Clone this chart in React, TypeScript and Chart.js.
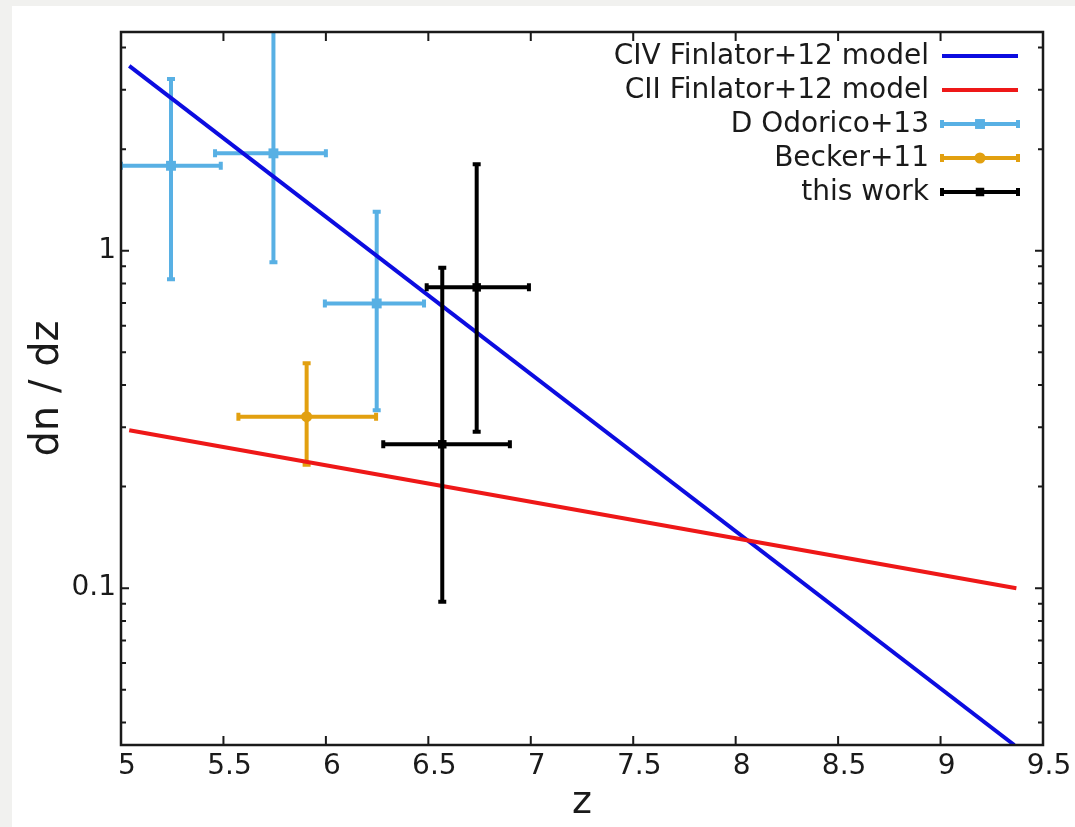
import React, { useEffect, useRef } from "react";
import { Chart, registerables } from "chart.js";

Chart.register(...registerables);

const FONT = "'DejaVu Sans', Verdana, sans-serif";
const INK = "#1a1a1a";

// Model curves (redshift z, dn/dz)
const civZ = [5.04, 9.36];
const civN = [3.53, 0.0343];
const ciiZ = [5.04, 9.37];
const ciiN = [0.294, 0.1];

// D Odorico+13 measurements
const odoZ = [5.244, 5.744, 6.248];
const odoN = [1.786, 1.944, 0.698];
const odoZLo = [5.0, 5.459, 5.995];
const odoZHi = [5.487, 6.0, 6.479];
const odoNLo = [0.824, 0.924, 0.337];
const odoNHi = [3.23, 5.0, 1.305];

// Becker+11 measurement
const beckZ = [5.906];
const beckN = [0.3224];
const beckZLo = [5.573];
const beckZHi = [6.245];
const beckNLo = [0.232];
const beckNHi = [0.464];

// this work
const workZ = [6.568, 6.736];
const workN = [0.267, 0.779];
const workZLo = [6.28, 6.492];
const workZHi = [6.898, 6.991];
const workNLo = [0.0912, 0.291];
const workNHi = [0.89, 1.806];

// Axis ranges and ticks
const xMin = 5;
const xMax = 9.5;
const yMin = 0.0343;
const yMax = 4.45;
const xMajorTicks = [5, 5.5, 6, 6.5, 7, 7.5, 8, 8.5, 9, 9.5];
const yMajorTicks = [0.1, 1];
const yMinorTicks = [
  0.04, 0.05, 0.06, 0.07, 0.08, 0.09,
  0.2, 0.3, 0.4, 0.5, 0.6, 0.7, 0.8, 0.9,
  2, 3, 4,
];

const pts = (xs: number[], ys: number[]) => xs.map((x, i) => ({ x, y: ys[i] }));

const errs = (zLo: number[], zHi: number[], nLo: number[], nHi: number[]) =>
  zLo.map((_, i) => ({ zLo: zLo[i], zHi: zHi[i], nLo: nLo[i], nHi: nHi[i] }));

const BAR_WIDTH = 4;
const CAP = 4;

function drawErrorBar(
  ctx: CanvasRenderingContext2D,
  x0: number, x1: number, xc: number,
  y0: number, y1: number, yc: number,
  cap: number
) {
  ctx.beginPath();
  ctx.moveTo(x0, yc);
  ctx.lineTo(x1, yc);
  ctx.moveTo(x0, yc - cap);
  ctx.lineTo(x0, yc + cap);
  ctx.moveTo(x1, yc - cap);
  ctx.lineTo(x1, yc + cap);
  ctx.moveTo(xc, y0);
  ctx.lineTo(xc, y1);
  ctx.moveTo(xc - cap, y0);
  ctx.lineTo(xc + cap, y0);
  ctx.moveTo(xc - cap, y1);
  ctx.lineTo(xc + cap, y1);
  ctx.stroke();
}

const errorBarPlugin = {
  id: "errorBars",
  beforeDatasetDraw(chart: any, args: any) {
    const ds = chart.data.datasets[args.index];
    if (!ds.errors) return;
    const { ctx, chartArea, scales } = chart;
    const x = scales.x;
    const y = scales.y;
    ctx.save();
    ctx.beginPath();
    ctx.rect(chartArea.left, chartArea.top, chartArea.right - chartArea.left, chartArea.bottom - chartArea.top);
    ctx.clip();
    ctx.strokeStyle = ds.borderColor;
    ctx.lineWidth = BAR_WIDTH;
    ds.data.forEach((p: any, i: number) => {
      const e = ds.errors[i];
      drawErrorBar(
        ctx,
        x.getPixelForValue(e.zLo), x.getPixelForValue(e.zHi), x.getPixelForValue(p.x),
        y.getPixelForValue(e.nHi), y.getPixelForValue(e.nLo), y.getPixelForValue(p.y),
        CAP
      );
    });
    ctx.restore();
  },
  afterDraw(chart: any) {
    const { ctx, chartArea, scales } = chart;
    const { left, right, top, bottom } = chartArea;
    const x = scales.x;
    const y = scales.y;
    ctx.save();
    ctx.strokeStyle = INK;
    ctx.lineWidth = 2.5;
    ctx.strokeRect(left, top, right - left, bottom - top);

    // inward ticks on all four sides
    ctx.lineWidth = 2;
    ctx.beginPath();
    xMajorTicks.forEach((v) => {
      const px = x.getPixelForValue(v);
      ctx.moveTo(px, bottom);
      ctx.lineTo(px, bottom - 9);
      ctx.moveTo(px, top);
      ctx.lineTo(px, top + 9);
    });
    yMajorTicks.forEach((v) => {
      const py = y.getPixelForValue(v);
      ctx.moveTo(left, py);
      ctx.lineTo(left + 8, py);
      ctx.moveTo(right, py);
      ctx.lineTo(right - 8, py);
    });
    yMinorTicks.forEach((v) => {
      const py = y.getPixelForValue(v);
      ctx.moveTo(left, py);
      ctx.lineTo(left + 5, py);
      ctx.moveTo(right, py);
      ctx.lineTo(right - 5, py);
    });
    ctx.stroke();

    // legend: right-aligned labels with samples on the right
    const textRight = 929;
    const sx0 = 942;
    const sx1 = 1018;
    const rowTop = 56;
    const rowStep = 34;
    ctx.font = `28px ${FONT}`;
    ctx.textAlign = "right";
    ctx.textBaseline = "middle";
    chart.data.datasets.forEach((ds: any, i: number) => {
      const ry = rowTop + i * rowStep;
      ctx.fillStyle = INK;
      ctx.fillText(ds.label, textRight, ry + 1);
      ctx.strokeStyle = ds.borderColor;
      if (ds.errors) {
        ctx.lineWidth = BAR_WIDTH;
        ctx.beginPath();
        ctx.moveTo(sx0, ry);
        ctx.lineTo(sx1, ry);
        ctx.moveTo(sx0, ry - CAP);
        ctx.lineTo(sx0, ry + CAP);
        ctx.moveTo(sx1, ry - CAP);
        ctx.lineTo(sx1, ry + CAP);
        ctx.stroke();
        const mx = (sx0 + sx1) / 2;
        ctx.fillStyle = ds.backgroundColor;
        if (ds.pointStyle === "circle") {
          ctx.beginPath();
          ctx.arc(mx, ry, ds.pointRadius, 0, Math.PI * 2);
          ctx.fill();
        } else {
          const h = ds.pointRadius * Math.SQRT1_2;
          ctx.fillRect(mx - h, ry - h, 2 * h, 2 * h);
        }
      } else {
        ctx.lineWidth = ds.borderWidth;
        ctx.beginPath();
        ctx.moveTo(sx0, ry);
        ctx.lineTo(sx1, ry);
        ctx.stroke();
      }
    });
    ctx.restore();
  },
};

export default function App() {
  const canvasRef = useRef<HTMLCanvasElement | null>(null);

  useEffect(() => {
    const canvas = canvasRef.current;
    if (!canvas) return;

    const chart = new Chart(canvas, {
      type: "scatter",
      data: {
        datasets: [
          {
            label: "CIV Finlator+12 model",
            data: pts(civZ, civN),
            showLine: true,
            borderColor: "#0c0ce0",
            backgroundColor: "#0c0ce0",
            borderWidth: 4,
            pointRadius: 0,
            order: 3,
          },
          {
            label: "CII Finlator+12 model",
            data: pts(ciiZ, ciiN),
            showLine: true,
            borderColor: "#ee1818",
            backgroundColor: "#ee1818",
            borderWidth: 4,
            pointRadius: 0,
            order: 2,
          },
          {
            label: "D Odorico+13",
            data: pts(odoZ, odoN),
            errors: errs(odoZLo, odoZHi, odoNLo, odoNHi),
            borderColor: "#58b0e4",
            backgroundColor: "#58b0e4",
            pointStyle: "rect",
            pointRadius: 7,
            borderWidth: 0,
            order: 5,
          },
          {
            label: "Becker+11",
            data: pts(beckZ, beckN),
            errors: errs(beckZLo, beckZHi, beckNLo, beckNHi),
            borderColor: "#e2a010",
            backgroundColor: "#e2a010",
            pointStyle: "circle",
            pointRadius: 5.5,
            borderWidth: 0,
            order: 4,
          },
          {
            label: "this work",
            data: pts(workZ, workN),
            errors: errs(workZLo, workZHi, workNLo, workNHi),
            borderColor: "#000000",
            backgroundColor: "#000000",
            pointStyle: "rect",
            pointRadius: 6,
            borderWidth: 0,
            order: 1,
          },
        ] as any,
      },
      options: {
        animation: false,
        responsive: false,
        devicePixelRatio: 1,
        layout: { padding: { top: 32, right: 32, left: 0, bottom: 0 } },
        plugins: {
          legend: { display: false },
          tooltip: { enabled: false },
        },
        scales: {
          x: {
            type: "linear",
            min: xMin,
            max: xMax,
            grid: { display: false },
            border: { display: false },
            afterFit: (s: any) => {
              s.height = 82;
            },
            afterBuildTicks: (s: any) => {
              s.ticks = xMajorTicks.map((v) => ({ value: v }));
            },
            ticks: {
              color: INK,
              font: { family: FONT, size: 28 },
              padding: -3,
              labelOffset: 6,
              maxRotation: 0,
              autoSkip: false,
              callback: (v: any) => String(v),
            },
            title: {
              display: true,
              text: "z",
              color: INK,
              font: { family: FONT, size: 38, lineHeight: 1 },
              padding: { top: 0, bottom: 5 },
            },
          },
          y: {
            type: "logarithmic",
            min: yMin,
            max: yMax,
            grid: { display: false },
            border: { display: false },
            afterFit: (s: any) => {
              s.width = 121;
            },
            afterBuildTicks: (s: any) => {
              s.ticks = yMajorTicks.map((v) => ({ value: v }));
            },
            ticks: {
              color: INK,
              font: { family: FONT, size: 28 },
              padding: -3,
              autoSkip: false,
              callback: (v: any) => String(v),
            },
            title: {
              display: true,
              text: "dn / dz",
              color: INK,
              font: { family: FONT, size: 40, lineHeight: 1 },
              padding: { top: 28, bottom: 0 },
            },
          },
        },
      },
      plugins: [errorBarPlugin],
    });

    return () => chart.destroy();
  }, []);

  return (
    <div style={{ position: "fixed", inset: 0, background: "#f1f1ef" }}>
      <div
        style={{ position: "absolute", left: 12, top: 6, right: 0, bottom: 0, background: "#ffffff" }}
      />
      <canvas
        ref={canvasRef}
        width={1075}
        height={827}
        style={{ position: "absolute", left: 0, top: 0, width: 1075, height: 827 }}
      />
    </div>
  );
}
